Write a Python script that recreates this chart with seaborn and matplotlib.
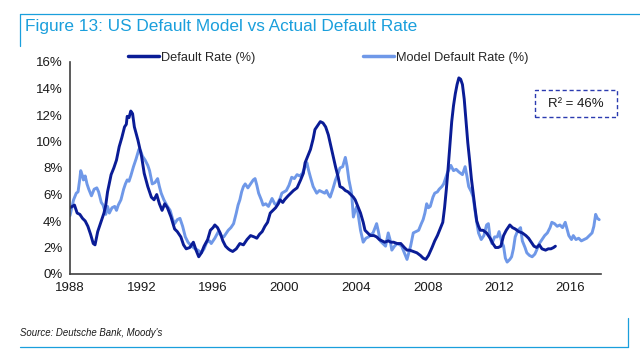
import matplotlib
matplotlib.use("Agg")
import matplotlib.pyplot as plt
from matplotlib.patches import Rectangle
from matplotlib.lines import Line2D
import seaborn as sns
import pandas as pd

# ---------------- data ----------------
default_years = [
    1988.0, 1988.25, 1988.4, 1988.55, 1988.7, 1988.85, 1989.0, 1989.15, 1989.3, 1989.4,
    1989.55, 1989.75, 1989.9, 1990.0, 1990.1, 1990.3, 1990.45, 1990.6, 1990.75, 1990.9,
    1991.05, 1991.15, 1991.2, 1991.3, 1991.4, 1991.5, 1991.6, 1991.8, 1992.0, 1992.15,
    1992.35, 1992.55, 1992.7, 1992.85, 1993.0, 1993.15, 1993.3, 1993.45, 1993.65, 1993.85,
    1994.0, 1994.2, 1994.35, 1994.5, 1994.7, 1994.9, 1995.05, 1995.2, 1995.35, 1995.5,
    1995.7, 1995.85, 1996.0, 1996.1, 1996.25, 1996.4, 1996.55, 1996.7, 1996.85, 1996.95,
    1997.1, 1997.3, 1997.5, 1997.7, 1997.9, 1998.1, 1998.3, 1998.45, 1998.6, 1998.75,
    1998.9, 1999.05, 1999.2, 1999.35, 1999.5, 1999.65, 1999.75, 1999.9, 2000.0, 2000.2,
    2000.35, 2000.5, 2000.7, 2000.9, 2001.05, 2001.15, 2001.3, 2001.45, 2001.6, 2001.7,
    2001.85, 2002.0, 2002.15, 2002.3, 2002.45, 2002.55, 2002.7, 2002.85, 2003.0, 2003.1,
    2003.25, 2003.4, 2003.55, 2003.7, 2003.85, 2003.95, 2004.1, 2004.25, 2004.4, 2004.5,
    2004.65, 2004.8, 2005.0, 2005.15, 2005.3, 2005.45, 2005.6, 2005.8, 2005.95, 2006.1,
    2006.3, 2006.5, 2006.7, 2006.85, 2007.0, 2007.2, 2007.4, 2007.6, 2007.75, 2007.9,
    2008.05, 2008.25, 2008.4, 2008.55, 2008.7, 2008.85, 2008.95, 2009.05, 2009.15, 2009.25,
    2009.35, 2009.45, 2009.55, 2009.65, 2009.75, 2009.85, 2009.95, 2010.05, 2010.15, 2010.25,
    2010.35, 2010.45, 2010.55, 2010.65, 2010.75, 2010.85, 2010.95, 2011.1, 2011.3, 2011.5,
    2011.65, 2011.8, 2011.95, 2012.1, 2012.25, 2012.4, 2012.6, 2012.75, 2012.9, 2013.1,
    2013.3, 2013.5, 2013.65, 2013.8, 2013.95, 2014.1, 2014.25, 2014.4, 2014.6, 2014.75,
    2014.9, 2015.05, 2015.15,
]
default_rate = [
    5.0, 5.2, 4.6, 4.5, 4.2, 4.0, 3.6, 3.0, 2.3, 2.2,
    3.2, 4.0, 4.6, 5.2, 6.2, 7.5, 8.0, 8.6, 9.6, 10.3,
    11.1, 11.3, 11.9, 11.8, 12.3, 12.1, 11.1, 10.1, 8.9, 7.6,
    6.6, 5.8, 5.6, 6.0, 5.3, 4.8, 5.3, 5.0, 4.3, 3.4,
    3.2, 2.8, 2.2, 1.9, 2.0, 2.4, 1.8, 1.3, 1.6, 2.1,
    2.6, 3.3, 3.5, 3.7, 3.5, 3.1, 2.5, 2.1, 1.9, 1.8,
    1.7, 1.9, 2.3, 2.2, 2.6, 2.9, 2.8, 2.7, 3.0, 3.2,
    3.6, 3.9, 4.6, 4.8, 5.0, 5.3, 5.6, 5.4, 5.6, 5.9,
    6.1, 6.3, 6.5, 7.1, 7.6, 8.4, 8.9, 9.4, 10.2, 10.9,
    11.2, 11.5, 11.4, 11.1, 10.5, 9.9, 9.0, 8.1, 7.3, 6.6,
    6.5, 6.3, 6.2, 6.0, 5.8, 5.6, 5.1, 4.6, 3.9, 3.3,
    3.1, 2.9, 2.9, 2.8, 2.6, 2.5, 2.4, 2.5, 2.4, 2.4,
    2.3, 2.3, 2.0, 1.8, 1.8, 1.7, 1.6, 1.4, 1.2, 1.1,
    1.4, 2.0, 2.5, 2.9, 3.4, 3.9, 5.0, 6.4, 8.0, 9.8,
    11.5, 12.7, 13.6, 14.3, 14.8, 14.7, 14.3, 13.2, 11.5, 9.9,
    8.6, 7.2, 6.1, 5.0, 4.0, 3.6, 3.3, 3.3, 3.1, 2.7,
    2.3, 2.0, 2.0, 2.1, 2.9, 3.3, 3.7, 3.5, 3.4, 3.2,
    3.1, 2.9, 2.7, 2.4, 2.1, 2.0, 2.2, 1.9, 1.8, 1.9,
    1.9, 2.0, 2.1,
]

model_years = [
    1988.0, 1988.1, 1988.2, 1988.35, 1988.45, 1988.55, 1988.6, 1988.7, 1988.75, 1988.85,
    1988.95, 1989.05, 1989.2, 1989.35, 1989.5, 1989.6, 1989.75, 1989.85, 1990.0, 1990.1,
    1990.2, 1990.35, 1990.5, 1990.6, 1990.7, 1990.85, 1991.0, 1991.1, 1991.2, 1991.3,
    1991.4, 1991.55, 1991.7, 1991.85, 1991.95, 1992.05, 1992.2, 1992.35, 1992.45, 1992.6,
    1992.75, 1992.9, 1993.0, 1993.1, 1993.25, 1993.45, 1993.6, 1993.75, 1993.85, 1994.0,
    1994.15, 1994.3, 1994.45, 1994.6, 1994.8, 1995.0, 1995.15, 1995.35, 1995.5, 1995.65,
    1995.8, 1995.9, 1996.1, 1996.3, 1996.45, 1996.6, 1996.75, 1996.85, 1997.0, 1997.15,
    1997.3, 1997.4, 1997.5, 1997.6, 1997.7, 1997.8, 1997.95, 1998.1, 1998.25, 1998.35,
    1998.45, 1998.55, 1998.7, 1998.8, 1998.95, 1999.1, 1999.3, 1999.45, 1999.55, 1999.75,
    1999.85, 2000.1, 2000.25, 2000.4, 2000.55, 2000.7, 2000.85, 2001.0, 2001.15, 2001.25,
    2001.35, 2001.45, 2001.6, 2001.8, 2001.95, 2002.1, 2002.25, 2002.35, 2002.45, 2002.55,
    2002.7, 2002.85, 2003.0, 2003.1, 2003.25, 2003.4, 2003.5, 2003.6, 2003.75, 2003.85,
    2003.95, 2004.05, 2004.15, 2004.25, 2004.4, 2004.55, 2004.7, 2004.85, 2004.95, 2005.15,
    2005.25, 2005.35, 2005.5, 2005.65, 2005.8, 2005.9, 2006.0, 2006.15, 2006.3, 2006.45,
    2006.55, 2006.7, 2006.85, 2006.95, 2007.05, 2007.2, 2007.35, 2007.5, 2007.65, 2007.75,
    2007.85, 2007.95, 2008.05, 2008.15, 2008.3, 2008.4, 2008.55, 2008.65, 2008.8, 2008.9,
    2009.0, 2009.1, 2009.2, 2009.3, 2009.45, 2009.6, 2009.75, 2009.85, 2009.95, 2010.05,
    2010.1, 2010.2, 2010.3, 2010.45, 2010.55, 2010.65, 2010.75, 2010.85, 2011.0, 2011.15,
    2011.3, 2011.4, 2011.5, 2011.6, 2011.75, 2011.9, 2012.0, 2012.15, 2012.25, 2012.35,
    2012.45, 2012.6, 2012.7, 2012.8, 2012.9, 2013.05, 2013.2, 2013.3, 2013.45, 2013.55,
    2013.7, 2013.85, 2014.0, 2014.1, 2014.25, 2014.4, 2014.55, 2014.7, 2014.85, 2014.95,
    2015.1, 2015.25, 2015.4, 2015.55, 2015.7, 2015.8, 2015.9, 2016.05, 2016.15, 2016.3,
    2016.45, 2016.6, 2016.75, 2016.9, 2017.05, 2017.2, 2017.3, 2017.4, 2017.5, 2017.6,
]
model_rate = [
    4.4, 5.0, 5.6, 6.1, 6.2, 7.2, 7.8, 7.4, 7.1, 7.4,
    6.8, 6.4, 5.9, 6.4, 6.5, 6.2, 5.4, 5.2, 4.5, 5.1,
    4.6, 5.0, 5.1, 4.8, 5.2, 5.6, 6.4, 6.8, 7.1, 7.0,
    7.4, 8.1, 8.7, 9.4, 9.3, 8.9, 8.6, 8.2, 7.8, 6.8,
    6.9, 7.2, 6.6, 6.1, 5.6, 5.1, 4.8, 4.1, 3.8, 4.1,
    4.2, 3.6, 2.8, 2.4, 2.1, 1.9, 1.8, 1.6, 1.9, 2.4,
    2.5, 2.3, 2.7, 3.2, 2.9, 2.8, 3.1, 3.3, 3.5, 3.8,
    4.6, 5.2, 5.6, 6.2, 6.6, 6.8, 6.5, 6.8, 7.1, 7.2,
    6.7, 6.1, 5.6, 5.2, 5.3, 5.1, 5.7, 5.3, 5.2, 5.7,
    6.1, 6.3, 6.7, 7.3, 7.2, 7.5, 7.4, 7.6, 8.1, 8.4,
    7.8, 7.3, 6.6, 6.1, 6.3, 6.2, 6.1, 6.3, 6.0, 5.8,
    6.4, 7.1, 7.6, 8.0, 8.1, 8.8, 8.1, 7.1, 6.1, 4.3,
    4.8, 5.1, 4.2, 3.3, 2.4, 2.7, 2.8, 3.0, 3.1, 3.8,
    3.2, 2.5, 2.3, 2.1, 3.1, 2.6, 1.8, 2.1, 2.3, 2.2,
    2.1, 1.6, 1.1, 1.6, 2.1, 3.1, 3.2, 3.3, 3.8, 4.1,
    4.6, 5.3, 5.0, 5.1, 5.8, 6.1, 6.2, 6.4, 6.6, 6.8,
    7.2, 7.6, 7.9, 8.2, 7.8, 7.9, 7.7, 7.6, 7.5, 7.9,
    8.1, 7.4, 6.6, 6.2, 5.8, 4.8, 3.9, 3.1, 2.6, 2.9,
    3.7, 3.8, 2.7, 2.3, 2.8, 2.8, 3.2, 2.4, 2.1, 1.2,
    0.9, 1.1, 1.3, 1.9, 2.8, 3.3, 3.5, 2.5, 2.0, 1.6,
    1.4, 1.3, 1.5, 1.8, 2.3, 2.6, 2.9, 3.1, 3.5, 3.9,
    3.8, 3.6, 3.7, 3.5, 3.9, 3.4, 2.9, 2.6, 2.9, 2.6,
    2.7, 2.5, 2.6, 2.7, 2.9, 3.1, 3.6, 4.5, 4.2, 4.1,
]

x_ticks = [1988, 1992, 1996, 2000, 2004, 2008, 2012, 2016]
y_ticks = [0, 2, 4, 6, 8, 10, 12, 14, 16]
series_names = ["Default Rate (%)", "Model Default Rate (%)"]
title_text = "Figure 13: US Default Model vs Actual Default Rate"
source_text = "Source: Deutsche Bank, Moody's"
r2_text = "R\u00b2 = 46%"

# ---------------- styling ----------------
sns.set_theme(style="white")
plt.rcParams["font.family"] = ["Liberation Sans", "DejaVu Sans"]

DARK = "#0A1C96"
LIGHT = "#6F98E8"
BLUE_T = "#1A9FDC"
AXC = "#404040"

df = pd.concat([
    pd.DataFrame({"year": default_years, "rate": default_rate, "series": series_names[0]}),
    pd.DataFrame({"year": model_years, "rate": model_rate, "series": series_names[1]}),
], ignore_index=True)

fig = plt.figure(figsize=(6.4, 3.63), dpi=100)
ax = fig.add_axes([70 / 640, 1 - 274 / 363, (601 - 70) / 640, (274 - 62) / 363])

sns.lineplot(data=df[df.series == series_names[1]], x="year", y="rate", ax=ax,
             color=LIGHT, lw=2.1, sort=False, estimator=None, legend=False)
sns.lineplot(data=df[df.series == series_names[0]], x="year", y="rate", ax=ax,
             color=DARK, lw=2.1, sort=False, estimator=None, legend=False)

ax.set_xlim(1988, 2017.7)
ax.set_ylim(0, 16)
ax.set_xticks(x_ticks)
ax.set_xticklabels([str(t) for t in x_ticks])
ax.set_yticks(y_ticks)
ax.set_yticklabels([f"{t}%" for t in y_ticks])
ax.set_xlabel("")
ax.set_ylabel("")
for s in ["top", "right"]:
    ax.spines[s].set_visible(False)
for s in ["left", "bottom"]:
    ax.spines[s].set_color(AXC)
    ax.spines[s].set_linewidth(1.2)
ax.tick_params(axis="both", which="major", length=3.5, width=1.0, color=AXC,
               labelsize=9.5, labelcolor="#1a1a1a", direction="out", pad=2)

handles = [Line2D([], [], color=DARK, lw=2.5), Line2D([], [], color=LIGHT, lw=2.5)]
ax.legend(handles, series_names, loc="center", bbox_to_anchor=(0.487, 1.02), ncol=2,
          frameon=False, fontsize=9.2, handlelength=2.4, handletextpad=0.2,
          columnspacing=8.4, borderaxespad=0)

# R^2 box
rect = Rectangle((0.876, 0.741), 0.154, 0.127, transform=ax.transAxes, fill=False,
                 edgecolor="#2B3BB0", lw=1.0, linestyle=(0, (3, 2)), clip_on=False)
ax.add_patch(rect)
ax.text(0.953, 0.804, r2_text, transform=ax.transAxes, ha="center", va="center",
        fontsize=9.5, color="#1a1a1a", clip_on=False)

# title & frame lines
fig.text(25 / 640, 1 - 27 / 363, title_text, ha="left", va="center",
         fontsize=12.4, color=BLUE_T)
fig.add_artist(Line2D([20 / 640, 1.0], [1 - 14 / 363, 1 - 14 / 363], color=BLUE_T, lw=0.9,
                      transform=fig.transFigure))
fig.add_artist(Line2D([20 / 640, 20 / 640], [1 - 14 / 363, 1 - 46 / 363], color=BLUE_T, lw=0.9,
                      transform=fig.transFigure))

# source & bottom frame
fig.text(20 / 640, 1 - 333 / 363, source_text, ha="left", va="center",
         fontsize=6.9, style="italic", color="#1a1a1a")
fig.add_artist(Line2D([20 / 640, 628 / 640], [1 - 347 / 363, 1 - 347 / 363], color=BLUE_T, lw=0.9,
                      transform=fig.transFigure))
fig.add_artist(Line2D([628 / 640, 628 / 640], [1 - 318 / 363, 1 - 347 / 363], color=BLUE_T, lw=0.9,
                      transform=fig.transFigure))

fig.savefig("out.png", dpi=100)
